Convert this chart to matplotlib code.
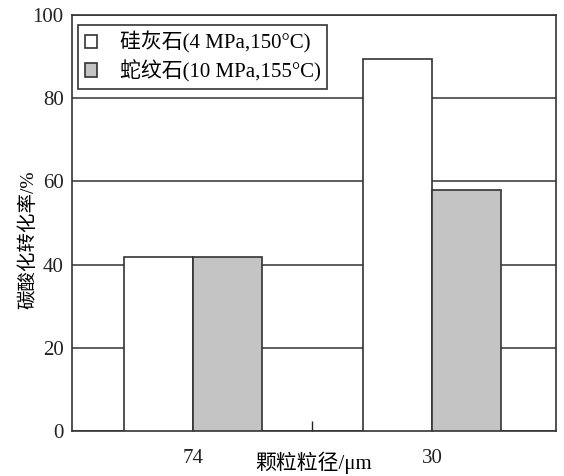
import numpy as np
import matplotlib
matplotlib.use('Agg')
import matplotlib.pyplot as plt

plt.rcParams['font.family'] = ['Liberation Serif', 'Noto Sans CJK SC']

# 数据
sizes = ['74', '30']
wollastonite = [41.8, 89.4]
serpentine = [41.8, 57.9]
labels = ['硅灰石(4 MPa,150\u00b0C)', '蛇纹石(10 MPa,155\u00b0C)']

fig = plt.figure(figsize=(5.64, 4.76), dpi=100)
ax = fig.add_axes([72/564, 45/476, 484/564, 416/476])

x = np.arange(len(sizes))
w = 0.29
ax.bar(x - w/2, wollastonite, width=w, color='white', edgecolor='#333333',
       linewidth=1.2, label=labels[0], zorder=3)
ax.bar(x + w/2, serpentine, width=w, color='#c4c4c4', edgecolor='#333333',
       linewidth=1.2, label=labels[1], zorder=3)

ax.set_xlim(-0.506, 1.519)
ax.set_ylim(0, 100)
ax.set_yticks([0, 20, 40, 60, 80, 100])
ax.set_xticks([0, 0.5, 1])
ax.set_xticklabels([sizes[0], '', sizes[1]])
ax.tick_params(axis='both', direction='in', labelsize=15, colors='#222222', length=7, width=1)
ax.tick_params(axis='x', pad=13)
ax.tick_params(axis='y', pad=6, length=0)
ax.yaxis.grid(True, color='#333333', linewidth=1.1, zorder=0)
for s in ax.spines.values():
    s.set_color('#333333')
    s.set_linewidth(1.2)

ax.set_xlabel('颗粒粒径/μm', fontsize=15, va='center')
ax.xaxis.set_label_coords(0.5, -0.076)
ax.set_ylabel('碳酸化转化率/%', fontsize=14, va='center')
ax.yaxis.set_label_coords(-0.091, 0.46)

leg = ax.legend(loc='upper left', bbox_to_anchor=(0.0, 0.99), fontsize=15,
                frameon=True, fancybox=False, edgecolor='#333333',
                handlelength=0.6, handleheight=0.6, handletextpad=1.1,
                borderpad=0.3, labelspacing=0.3, borderaxespad=0.3)
leg.get_frame().set_linewidth(1.2)
leg.get_frame().set_alpha(1)
leg.set_zorder(5)

fig.savefig('out.png', dpi=100)
